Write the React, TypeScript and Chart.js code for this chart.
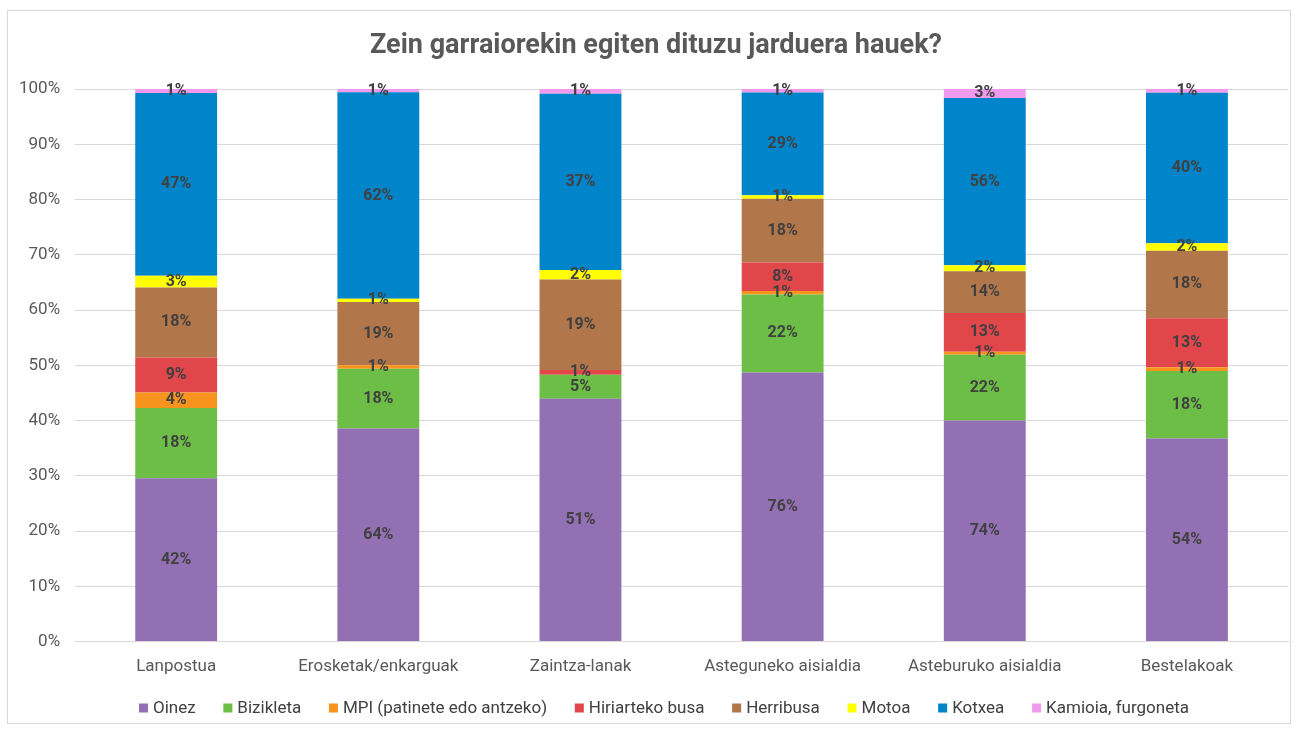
import React, { useEffect, useRef } from "react";
import { Chart, registerables } from "chart.js";

Chart.register(...registerables);

const chartTitle = "Zein garraiorekin egiten dituzu jarduera hauek?";
const categories = [
  "Lanpostua",
  "Erosketak/enkarguak",
  "Zaintza-lanak",
  "Asteguneko aisialdia",
  "Asteburuko aisialdia",
  "Bestelakoak",
];
const seriesNames = [
  "Oinez",
  "Bizikleta",
  "MPI (patinete edo antzeko)",
  "Hiriarteko busa",
  "Herribusa",
  "Motoa",
  "Kotxea",
  "Kamioia, furgoneta",
];
const oinez = [42, 64, 51, 76, 74, 54];
const bizikleta = [18, 18, 5, 22, 22, 18];
const mpi = [4, 1, 0, 1, 1, 1];
const hiriarteko = [9, 0, 1, 8, 13, 13];
const herribusa = [18, 19, 19, 18, 14, 18];
const motoa = [3, 1, 2, 1, 2, 2];
const kotxea = [47, 62, 37, 29, 56, 40];
const kamioia = [1, 1, 1, 1, 3, 1];
const yTicks = [0, 10, 20, 30, 40, 50, 60, 70, 80, 90, 100];

const colors = [
  "#9370B3",
  "#6DBE46",
  "#F7941E",
  "#E1464B",
  "#B1764A",
  "#FFFF00",
  "#0085CA",
  "#F09AEE",
];

const rawSeries = [oinez, bizikleta, mpi, hiriarteko, herribusa, motoa, kotxea, kamioia];

const labelPlugin = {
  id: "barLabels",
  afterDatasetsDraw(chart: any) {
    const ctx = chart.ctx;
    ctx.save();
    ctx.font = "bold 16px Roboto";
    ctx.fillStyle = "#404040";
    ctx.textAlign = "center";
    ctx.textBaseline = "middle";
    chart.data.datasets.forEach((ds: any, di: number) => {
      const meta = chart.getDatasetMeta(di);
      meta.data.forEach((el: any, i: number) => {
        const raw = ds.rawValues[i];
        if (!raw) return;
        const y = (el.y + el.base) / 2;
        ctx.fillText(raw + "%", el.x, y);
      });
    });
    ctx.restore();
  },
};

// Title and legend drawn as real canvas text, positioned like the reference
const decorPlugin = {
  id: "decor",
  afterDraw(chart: any) {
    const ctx = chart.ctx;
    ctx.save();
    ctx.font = "bold 27px Roboto";
    ctx.fillStyle = "#595959";
    ctx.textAlign = "center";
    ctx.textBaseline = "middle";
    ctx.fillText(chartTitle, 656, 46);

    ctx.font = "17px Roboto";
    ctx.textAlign = "left";
    const box = 9;
    const gapBox = 5;
    const widths = chart.data.datasets.map(
      (ds: any) => box + gapBox + ctx.measureText(ds.label).width
    );
    const totalWanted = 1050;
    const sum = widths.reduce((a: number, b: number) => a + b, 0);
    const gap = (totalWanted - sum) / (widths.length - 1);
    let x = 664 - totalWanted / 2;
    const y = 708;
    chart.data.datasets.forEach((ds: any, i: number) => {
      ctx.fillStyle = ds.backgroundColor;
      ctx.fillRect(x, y - box / 2, box, box);
      ctx.fillStyle = "#404040";
      ctx.fillText(ds.label, x + box + gapBox, y + 1);
      x += widths[i] + gap;
    });
    ctx.restore();
  },
};

export default function App() {
  const ref = useRef<HTMLCanvasElement>(null);
  useEffect(() => {
    document.body.style.margin = "0";
    const totals = categories.map((_, i) =>
      rawSeries.reduce((s, arr) => s + arr[i], 0)
    );
    const chart = new Chart(ref.current!, {
      type: "bar",
      data: {
        labels: categories,
        datasets: rawSeries.map((arr, k) => ({
          label: seriesNames[k],
          data: arr.map((v, i) => (v / totals[i]) * 100),
          rawValues: arr,
          backgroundColor: colors[k],
          borderWidth: 0,
          barPercentage: 0.81,
          categoryPercentage: 0.5,
        })) as any,
      },
      options: {
        animation: false,
        responsive: false,
        maintainAspectRatio: false,
        layout: { padding: { top: 89, left: 4, right: 10, bottom: 39 } },
        plugins: {
          title: { display: false },
          legend: { display: false },
          tooltip: { enabled: false },
        },
        scales: {
          x: {
            stacked: true,
            grid: { display: false, drawTicks: false },
            border: { color: "#d9d9d9" },
            ticks: { color: "#595959", font: { family: "Roboto", size: 17 }, padding: 15 },
          },
          y: {
            stacked: true,
            min: 0,
            max: 100,
            afterBuildTicks: (axis: any) => {
              axis.ticks = yTicks.map((v) => ({ value: v }));
            },
            grid: { color: "#d9d9d9", drawTicks: false },
            border: { display: false },
            ticks: {
              color: "#595959",
              font: { family: "Roboto", size: 17 },
              padding: 15,
              callback: (v: any) => v + "%",
            },
          },
        },
      },
      plugins: [labelPlugin, decorPlugin],
    });
    return () => chart.destroy();
  }, []);
  return (
    <div style={{ position: "relative", width: 1298, height: 731, background: "#fff" }}>
      <div
        style={{
          position: "absolute",
          left: 7,
          top: 10,
          width: 1284,
          height: 714,
          border: "1px solid #d9d9d9",
          boxSizing: "border-box",
        }}
      />
      <canvas ref={ref} width={1298} height={731} style={{ position: "absolute", left: 0, top: 0 }} />
    </div>
  );
}
